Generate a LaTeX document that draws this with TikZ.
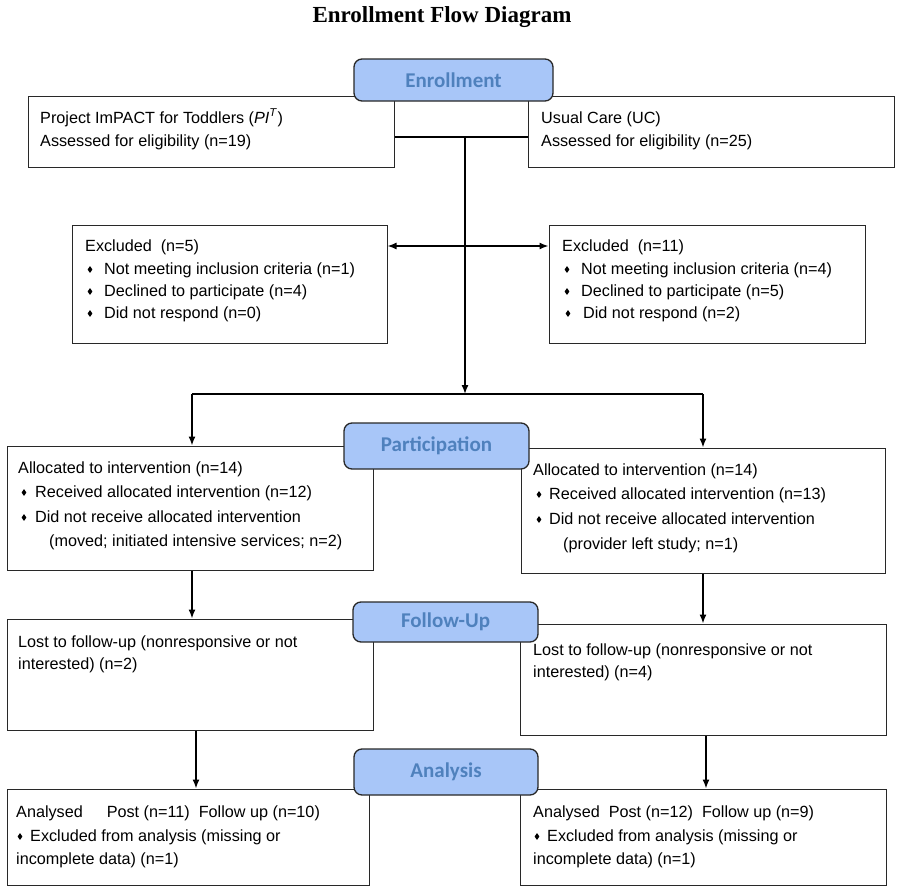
\documentclass[tikz,border=0pt]{standalone}
\usepackage{fontspec}
\setmainfont{Liberation Sans}
\newfontfamily\titlefont{Liberation Serif}
\newfontfamily\pillfont{Carlito}
\usetikzlibrary{arrows.meta,shapes.geometric}
\definecolor{pillfill}{RGB}{168,198,248}
\definecolor{pilltext}{RGB}{79,129,189}
\definecolor{boxline}{RGB}{40,40,40}
\begin{document}
\begin{tikzpicture}[x=1pt,y=-1pt,
  box/.style={draw=boxline,line width=1pt,fill=white,rectangle,inner sep=0pt},
  pill/.style={draw=boxline,line width=1.3pt,fill=pillfill,rectangle,rounded corners=8pt,inner sep=0pt,
    text=pilltext,font=\pillfont\bfseries\fontsize{21}{24}\selectfont},
  txt/.style={anchor=base west,inner sep=0pt,font=\fontsize{16.2}{19}\selectfont},
  bul/.style={diamond,fill=black,inner sep=0pt,minimum width=5pt,minimum height=7pt},
  conn/.style={line width=1.4pt},
  arr/.style={line width=1.4pt,-{Latex[length=9pt,width=7pt]}},
  darr/.style={line width=1.4pt,{Latex[length=9pt,width=7pt]}-{Latex[length=9pt,width=7pt]}}]
\useasboundingbox (0,0) rectangle (898,889);

% title
\node[inner sep=0pt,anchor=base,font=\titlefont\bfseries\fontsize{23}{27}\selectfont] (title) at (442,22) {Enrollment Flow Diagram};

% boxes
\node[box,minimum width=366pt,minimum height=71pt] (le) at (211,131.5) {};
\node[box,minimum width=366pt,minimum height=71pt] (re) at (711,131.5) {};
\node[box,minimum width=315pt,minimum height=118pt] (lx) at (229.5,284) {};
\node[box,minimum width=316pt,minimum height=118pt] (rx) at (707,284) {};
\node[box,minimum width=366pt,minimum height=124pt] (lp) at (190,508) {};
\node[box,minimum width=364pt,minimum height=125pt] (rp) at (703,510.5) {};
\node[box,minimum width=366pt,minimum height=111pt] (lf) at (190,674.5) {};
\node[box,minimum width=366pt,minimum height=111pt] (rf) at (703,679.5) {};
\node[box,minimum width=362pt,minimum height=96pt] (la) at (188,837) {};
\node[box,minimum width=366pt,minimum height=96pt] (ra) at (703,837) {};

% connectors
\coordinate (j1) at (465,137);
\coordinate (j2) at (465,394);
\coordinate (jx) at (465,246);
\coordinate (jl) at (192,394);
\coordinate (jr) at (703,394);
\draw[conn] (le.east |- j1) -- (re.west |- j1);
\draw[arr] (j1) -- (j2);
\draw[darr] (lx.east |- jx) -- (rx.west |- jx);
\draw[conn] (jl) -- (jr);
\draw[arr] (jl) -- (lp.north -| jl);
\draw[arr] (jr) -- (rp.north -| jr);
\draw[arr] (lp.south -| jl) -- (lf.north -| jl);
\draw[arr] (rp.south -| jr) -- (rf.north -| jr);
\draw[arr] ([xshift=6pt]lf.south) -- ([xshift=8pt]la.north);
\draw[arr] ([xshift=3pt]rf.south) -- ([xshift=3pt]ra.north);

% pills
\node[pill,minimum width=199pt,minimum height=42pt] (pe) at (453.5,80) {Enrollment};
\node[pill,minimum width=185pt,minimum height=46pt] (pp) at (436.5,446) {Participation};
\node[pill,minimum width=185pt,minimum height=40pt] (pf) at (445.5,622) {Follow-Up};
\node[pill,minimum width=184pt,minimum height=46pt] (pa) at (446,772) {Analysis};

% enrollment texts
\node[txt] (t1) at (40,123) {Project ImPACT for Toddlers (\textit{PI}\textsuperscript{\textit{T}})};
\node[txt] (t2) at (40,146) {Assessed for eligibility (n=19)};
\node[txt] (t3) at (541,123) {Usual Care (UC)};
\node[txt] (t4) at (541,146) {Assessed for eligibility (n=25)};

% excluded texts
\node[txt] (x1) at (85,251) {Excluded\ \ (n=5)};
\node[bul] (xb1) at (90,269.5) {};
\node[txt] (x2) at (104,274) {Not meeting inclusion criteria (n=1)};
\node[bul] (xb2) at (90,291.5) {};
\node[txt] (x3) at (104,296) {Declined to participate (n=4)};
\node[bul] (xb3) at (90,313.5) {};
\node[txt] (x4) at (104,318) {Did not respond (n=0)};

\node[txt] (y1) at (562,251) {Excluded\ \ (n=11)};
\node[bul] (yb1) at (567,269.5) {};
\node[txt] (y2) at (581,274) {Not meeting inclusion criteria (n=4)};
\node[bul] (yb2) at (567,291.5) {};
\node[txt] (y3) at (581,296) {Declined to participate (n=5)};
\node[bul] (yb3) at (568,313.5) {};
\node[txt] (y4) at (583,318) {Did not respond (n=2)};

% participation texts
\node[txt] (p1) at (18,473) {Allocated to intervention (n=14)};
\node[bul] (pb1) at (24,492.5) {};
\node[txt] (p2) at (35,497) {Received allocated intervention (n=12)};
\node[bul] (pb2) at (24,517.5) {};
\node[txt] (p3) at (35,522) {Did not receive allocated intervention};
\node[txt] (p4) at (49,546) {(moved; initiated intensive services; n=2)};

\node[txt] (q1) at (533,475) {Allocated to intervention (n=14)};
\node[bul] (qb1) at (539,494.5) {};
\node[txt] (q2) at (549,499) {Received allocated intervention (n=13)};
\node[bul] (qb2) at (539,519.5) {};
\node[txt] (q3) at (549,524) {Did not receive allocated intervention};
\node[txt] (q4) at (563,549) {(provider left study; n=1)};

% follow-up texts
\node[txt] (f1) at (18,647) {Lost to follow-up (nonresponsive or not};
\node[txt] (f2) at (18,669) {interested) (n=2)};
\node[txt] (g1) at (533,655) {Lost to follow-up (nonresponsive or not};
\node[txt] (g2) at (533,677) {interested) (n=4)};

% analysis texts
\node[txt] (a1) at (16,817) {Analysed\hspace{24pt}Post (n=11)\ \ Follow up (n=10)};
\node[bul] (ab1) at (20,836.5) {};
\node[txt] (a2) at (30,841) {Excluded from analysis (missing or};
\node[txt] (a3) at (16,864) {incomplete data) (n=1)};

\node[txt] (b1) at (533,817) {Analysed\ \ Post (n=12)\ \ Follow up (n=9)};
\node[bul] (bb1) at (537,836.5) {};
\node[txt] (b2) at (547,841) {Excluded from analysis (missing or};
\node[txt] (b3) at (533,864) {incomplete data) (n=1)};
\end{tikzpicture}
\end{document}
